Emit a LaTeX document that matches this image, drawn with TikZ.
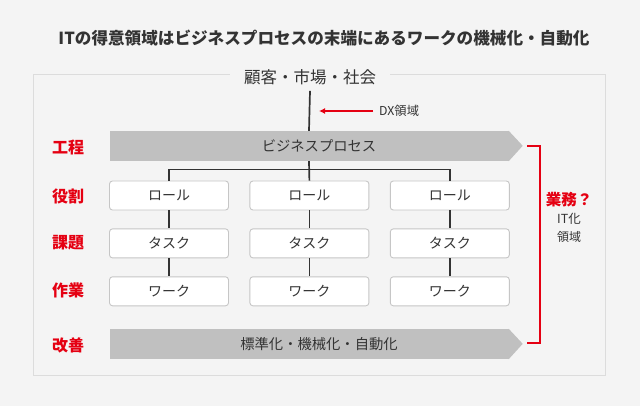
\documentclass[tikz,border=0pt]{standalone}
\usepackage{fontspec}
\setmainfont{Noto Sans CJK JP}
\usetikzlibrary{arrows.meta}
\usetikzlibrary{positioning}
\definecolor{mred}{HTML}{E50012}
\definecolor{mgray}{HTML}{333333}
\definecolor{mbg}{HTML}{F4F4F4}
\definecolor{mbar}{HTML}{C0C0C0}
\definecolor{mframe}{HTML}{DCDCDC}
\definecolor{mbox}{HTML}{C6C6C6}
\tikzset{role/.style = {draw=mbox, fill=white, rounded corners=3pt, line width=0.9pt,
                        minimum width=119pt, minimum height=29pt, inner sep=0pt,
                        text=mgray, font=\fontsize{14}{14}\selectfont},
         tag/.style = {text=mred, font=\fontsize{16}{16}\selectfont\bfseries},
         bar/.style = {fill=mbar, minimum width=399pt, minimum height=30pt, inner sep=0pt},
         bartext/.style = {text=mgray, font=\fontsize{14.3}{14.3}\selectfont},
         tree/.style = {draw=mgray, line width=1.7pt}}

\begin{document}
\begin{tikzpicture}[x=1pt, y=-1pt]
  \fill[mbg] (0,0) rectangle (640,406);
  \useasboundingbox (0,0) rectangle (640,406);

  \node [text=mgray, font=\fontsize{16.6}{16.6}\selectfont\bfseries] (title) at (324,38) {ITの得意領域はビジネスプロセスの末端にあるワークの機械化・自動化};
  \draw [mframe, line width=0.9pt] (33,74) rectangle (605,375);
  \node [fill=mbg, text=mgray, inner xsep=14pt, inner ysep=6pt, font=\fontsize{16.5}{16.5}\selectfont] (market) at (310,77) {顧客・市場・社会};

  \node [bar] (procbar) at (309,146) {};
  \fill [mbar] (procbar.north east) -- ++(14,15) -- (procbar.south east) -- cycle;
  \node [bartext] (proc) at (319,146) {ビジネスプロセス};
  \node [bar] (kaizenbar) at (309,344) {};
  \fill [mbar] (kaizenbar.north east) -- ++(14,15) -- (kaizenbar.south east) -- cycle;
  \node [bartext] (kaizen) at (319,344) {標準化・機械化・自動化};

  \node [role] (r1) at (169,195.5) {ロール};
  \node [role, right=20.5pt of r1] (r2) {ロール};
  \node [role, right=20.5pt of r2] (r3) {ロール};
  \node [role, below=18pt of r1] (t1) {タスク};
  \node [role, below=18pt of r2] (t2) {タスク};
  \node [role, below=18pt of r3] (t3) {タスク};
  \node [role, below=18pt of t1] (w1) {ワーク};
  \node [role, below=18pt of t2] (w2) {ワーク};
  \node [role, below=18pt of t3] (w3) {ワーク};

  \draw [tree] (market.south) -- (procbar.north);
  \draw [tree] (procbar.south) -- (r2.north);
  \draw [tree] (r1.north) -- ++(0,-11) -| (r3.north);
  \draw [tree] (r1) -- (t1) -- (w1);
  \draw [tree] (r2) -- (t2) -- (w2);
  \draw [tree] (r3) -- (t3) -- (w3);

  \node [text=mgray, anchor=west, inner sep=1pt, font=\fontsize{12.3}{12.3}\selectfont] (dx) at (378,111) {DX領域};
  \coordinate (dxtip) at (319,111);
  \draw [mred, line width=1.3pt, -{Latex[length=6pt, width=6pt]}] (dx.west) ++(-5,0) -- (dxtip);

  \node [tag] (lproc) at (68,147) {工程};
  \node [tag] (lrole) at (68,196) {役割};
  \node [tag] (ltask) at (68,243) {課題};
  \node [tag] (lwork) at (68,290) {作業};
  \node [tag] (lkaizen) at (68,345) {改善};

  \coordinate (bracketa) at (527,146);
  \coordinate (bracketb) at (527,343);
  \draw [mred, line width=1.7pt] (bracketa) -- ++(13,0) |- (bracketb);
  \node [text=mred, font=\fontsize{15.5}{15.5}\selectfont\bfseries] (gyomu) at (569,200) {業務？};
  \node [text=mgray, font=\fontsize{12.5}{12.5}\selectfont] (itka) at (569,219) {IT化};
  \node [text=mgray, font=\fontsize{12}{12}\selectfont] (ryoiki) at (569,237) {領域};
\end{tikzpicture}
\end{document}
